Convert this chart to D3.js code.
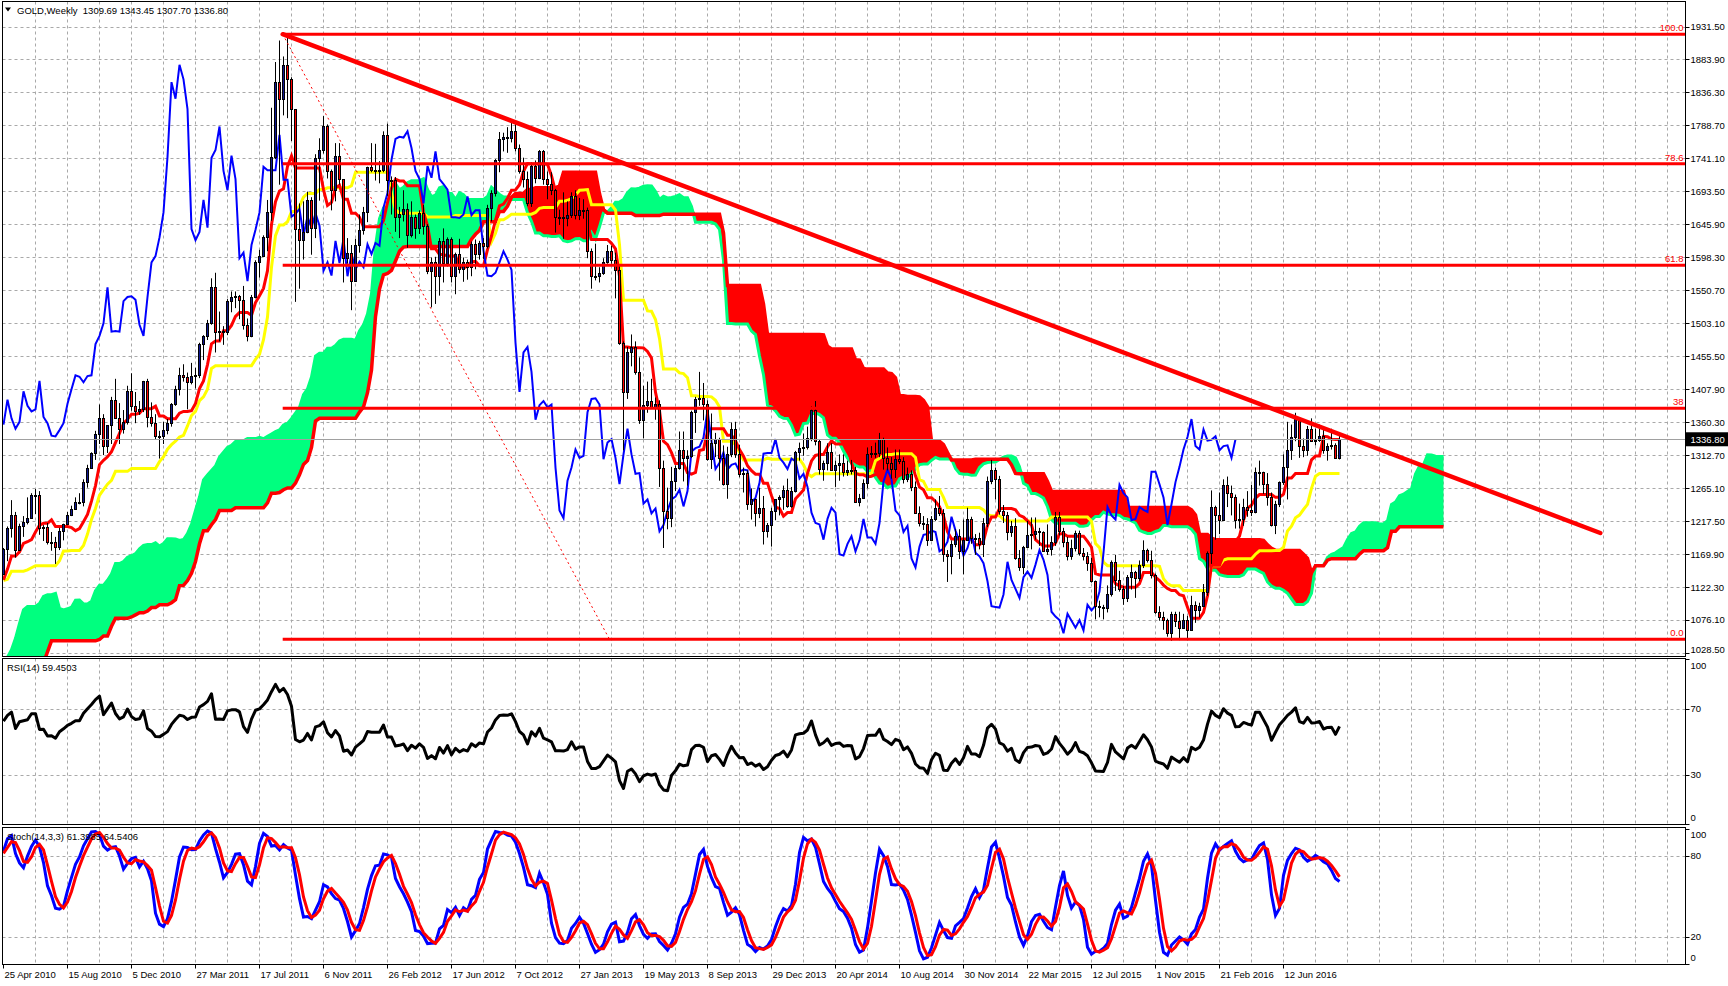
<!DOCTYPE html>
<html><head><meta charset="utf-8">
<script src="https://cdn.jsdelivr.net/npm/d3@7"></script>
<style>
body{margin:0;background:#fff;overflow:hidden}
text{font-family:"Liberation Sans",Arial,sans-serif;font-size:9.5px;fill:#000}
</style>
</head><body>
<svg id="c" width="1728" height="986"></svg>
<script>
// ---------- DATA ----------
// pre-history weekly bars (Oct 2008 - Apr 2010): [high, low, close] — only feeds the indicator look-back
const hist = [
[870,771,785],[806,681,737],[772,700,718],[772,707,735],[764,705,748],[800,722,797],[830,793,817],[815,739,752],
[828,752,824],[885,817,838],[877,835,872],[890,860,882],[880,838,853],[850,803,840],[900,834,897],[929,876,919],
[920,888,914],[948,906,944],[1006,940,1002],[1003,936,942],[945,910,939],[947,890,930],[961,884,952],[960,916,924],
[932,895,899],[889,866,883],[897,866,868],[915,870,913],[915,883,884],[919,880,915],[936,910,928],[960,923,956],
[982,940,979],[990,955,960],[963,932,936],[948,924,935],[945,915,940],[947,924,932],[935,908,913],[940,913,937],
[959,934,953],[960,923,955],[970,950,956],[955,935,949],[956,931,952],[958,937,955],[1000,946,996],[1010,986,1007],
[1023,998,1009],[1024,987,989],[1008,987,1003],[1050,1003,1049],[1070,1038,1051],[1070,1040,1057],[1065,1023,1045],
[1098,1040,1096],[1119,1089,1119],[1152,1115,1146],[1195,1136,1176],[1226,1160,1166],[1170,1115,1119],[1137,1100,1110],
[1113,1075,1104],[1106,1090,1097],[1140,1096,1138],[1162,1124,1131],[1141,1087,1092],[1107,1076,1082],[1124,1044,1050],
[1093,1058,1090],[1125,1088,1120],[1119,1086,1117],[1140,1113,1133],[1137,1095,1103],[1137,1100,1125],[1130,1088,1105],
[1127,1100,1125],[1167,1124,1163],[1170,1134,1136],[1154,1125,1142]
];
// visible weekly candles [open, high, low, close]
const bars2010 = [
[1142,1180,1141,1179],[1179,1211,1161,1209],[1209,1249,1195,1228],[1228,1232,1166,1177],[1177,1215,1176,1212],
[1212,1226,1196,1218],[1218,1253,1214,1223],[1223,1259,1222,1256],[1256,1265,1229,1256],[1256,1262,1199,1209],
[1209,1213,1190,1210],[1210,1216,1185,1188],[1188,1203,1176,1189],[1189,1196,1157,1181],[1181,1209,1177,1204],
[1204,1215,1191,1215],[1215,1232,1213,1228],[1228,1241,1226,1236],[1236,1253,1236,1246],[1246,1259,1243,1246],
[1246,1279,1240,1275],[1275,1300,1267,1296],[1296,1318,1295,1317],[1317,1349,1307,1345],[1345,1387,1330,1368],
[1368,1373,1314,1327],[1327,1347,1317,1358],[1358,1398,1330,1394],[1394,1424,1370,1367],[1367,1389,1330,1352],
[1352,1379,1345,1362],[1362,1414,1358,1406],[1406,1432,1378,1385],[1385,1405,1360,1377],[1377,1392,1372,1380],
[1380,1421,1376,1421]
];
const bars2011 = [
[1421,1424,1354,1369],[1369,1390,1355,1360],[1360,1373,1337,1342],[1342,1349,1309,1341],[1341,1362,1330,1350],
[1350,1366,1344,1360],[1360,1389,1355,1388],[1388,1414,1385,1409],[1409,1440,1400,1429],[1429,1445,1420,1427],
[1427,1433,1380,1419],[1419,1447,1416,1428],[1428,1440,1410,1429],[1429,1476,1425,1474],[1474,1487,1451,1486],
[1486,1509,1480,1504],[1504,1569,1502,1556],[1556,1577,1462,1492],[1492,1521,1478,1493],[1493,1500,1473,1492],
[1492,1539,1487,1536],[1536,1550,1520,1542],[1542,1550,1526,1543],[1543,1545,1510,1538],[1538,1558,1495,1502],
[1502,1511,1478,1486],[1486,1545,1484,1542],[1542,1595,1540,1592],[1592,1610,1570,1601],[1601,1631,1600,1628],
[1628,1682,1608,1664],[1664,1815,1652,1744],[1744,1881,1741,1852],[1852,1912,1704,1828],[1828,1889,1804,1877],
[1877,1921,1800,1856],[1856,1859,1767,1813],[1813,1813,1535,1640],[1640,1677,1554,1624],[1624,1680,1596,1636],
[1636,1694,1634,1682],[1682,1686,1603,1642],[1642,1748,1627,1743],[1743,1771,1681,1754],[1754,1803,1749,1788],
[1788,1791,1713,1724],[1724,1726,1667,1696],[1696,1764,1680,1746],[1746,1764,1704,1712],[1712,1712,1563,1598],
[1598,1627,1590,1606],[1606,1617,1523,1565]
];
const bars2012 = [
[1565,1626,1565,1617],[1617,1661,1606,1639],[1639,1672,1632,1664],[1664,1730,1650,1730],[1730,1764,1722,1725],
[1725,1763,1710,1725],[1725,1738,1706,1725],[1725,1781,1722,1776],[1776,1792,1688,1711],[1711,1716,1661,1711],
[1711,1715,1636,1658],[1658,1672,1627,1662],[1662,1696,1651,1669],[1669,1677,1613,1631],[1631,1680,1628,1658],
[1658,1661,1626,1642],[1642,1667,1633,1663],[1663,1675,1632,1645],[1645,1647,1575,1580],[1580,1599,1527,1592],
[1592,1600,1532,1573],[1573,1627,1544,1623],[1623,1641,1563,1591],[1591,1628,1586,1626],[1626,1628,1563,1572],
[1572,1606,1546,1604],[1604,1626,1576,1582],[1582,1599,1564,1593],[1593,1596,1567,1585],[1585,1622,1572,1618],
[1618,1625,1582,1604],[1604,1623,1596,1620],[1620,1627,1597,1616],[1616,1675,1612,1671],[1671,1696,1651,1692],
[1692,1741,1687,1740],[1740,1780,1722,1770],[1770,1779,1752,1773],[1773,1787,1750,1772],[1772,1796,1765,1781],
[1781,1795,1752,1757],[1757,1762,1720,1724],[1724,1743,1700,1712],[1712,1723,1673,1677],[1677,1736,1672,1731],
[1731,1739,1706,1714],[1714,1754,1712,1752],[1752,1754,1704,1712],[1712,1723,1683,1705],[1705,1722,1689,1697],
[1697,1698,1635,1657],[1657,1668,1646,1657],[1657,1693,1626,1656]
];
const bars2013 = [
[1656,1680,1644,1661],[1661,1693,1656,1687],[1687,1696,1654,1660],[1660,1685,1653,1667],[1667,1683,1655,1667],
[1667,1671,1598,1609],[1609,1612,1554,1573],[1573,1619,1566,1572],[1572,1585,1563,1577],[1577,1598,1574,1592],
[1592,1617,1590,1608],[1608,1616,1590,1596],[1596,1606,1540,1581],[1581,1587,1473,1476],[1476,1478,1321,1405],
[1405,1470,1395,1462],[1462,1488,1442,1470],[1470,1478,1430,1434],[1434,1455,1359,1365],[1365,1414,1338,1386],
[1386,1420,1375,1392],[1392,1424,1383,1383],[1383,1397,1365,1387],[1387,1393,1268,1296],[1296,1306,1180,1234],
[1234,1267,1207,1223],[1223,1297,1210,1277],[1277,1299,1262,1296],[1296,1348,1293,1322],[1322,1348,1276,1310],
[1310,1321,1270,1313],[1313,1378,1310,1376],[1376,1398,1346,1395],[1395,1434,1385,1396],[1396,1418,1364,1387],
[1387,1393,1306,1308],[1308,1374,1294,1332],[1332,1346,1311,1337],[1337,1339,1277,1310],[1310,1328,1270,1272],
[1272,1326,1251,1315],[1315,1361,1311,1352],[1352,1362,1310,1315],[1315,1329,1282,1287],[1287,1296,1260,1288],
[1288,1292,1235,1244],[1244,1266,1221,1250],[1250,1251,1211,1230],[1230,1267,1223,1237],[1237,1255,1185,1204],
[1204,1216,1195,1213],[1213,1238,1182,1234]
];
const bars2014 = [
[1234,1250,1220,1250],[1250,1256,1227,1254],[1254,1270,1235,1264],[1264,1280,1238,1240],[1240,1268,1238,1262],
[1262,1320,1260,1319],[1319,1332,1306,1324],[1324,1345,1313,1326],[1326,1355,1322,1339],[1339,1384,1334,1379],
[1379,1392,1328,1334],[1334,1337,1286,1294],[1294,1306,1277,1303],[1303,1331,1292,1318],[1318,1331,1292,1293],
[1293,1306,1268,1300],[1300,1315,1277,1302],[1302,1315,1283,1290],[1290,1306,1284,1293],[1293,1307,1286,1292],
[1292,1297,1245,1246],[1246,1258,1240,1252],[1252,1279,1252,1274],[1274,1325,1266,1316],[1316,1327,1310,1317],
[1317,1332,1310,1317],[1317,1346,1311,1337],[1337,1339,1293,1310],[1310,1325,1292,1303],[1303,1311,1280,1294],
[1294,1322,1281,1309],[1309,1322,1301,1305],[1305,1311,1273,1280],[1280,1296,1275,1287],[1287,1292,1262,1268],
[1268,1276,1229,1231],[1231,1240,1211,1216],[1216,1226,1206,1214],[1214,1223,1183,1192],[1192,1226,1190,1222],
[1222,1250,1219,1238],[1238,1255,1226,1231],[1231,1236,1160,1171],[1171,1177,1131,1169],[1169,1191,1142,1186],
[1186,1207,1181,1197],[1197,1207,1164,1175],[1175,1221,1142,1191],[1191,1238,1190,1222],[1222,1225,1186,1195],
[1195,1200,1170,1195],[1195,1202,1178,1186]
];
const bars2015 = [
[1186,1223,1167,1216],[1216,1283,1210,1276],[1276,1307,1272,1293],[1293,1296,1250,1279],[1279,1284,1228,1234],
[1234,1242,1216,1227],[1227,1232,1191,1203],[1203,1219,1196,1212],[1212,1223,1163,1165],[1165,1177,1147,1152],
[1152,1183,1142,1182],[1182,1219,1181,1199],[1199,1224,1178,1200],[1200,1224,1192,1205],[1205,1209,1183,1203],
[1203,1204,1175,1175],[1175,1214,1170,1179],[1179,1197,1169,1189],[1189,1232,1183,1225],[1225,1232,1198,1205],
[1205,1209,1181,1189],[1189,1196,1162,1169],[1169,1192,1163,1180],[1180,1205,1175,1201],[1201,1205,1169,1173],
[1173,1180,1162,1168],[1168,1174,1147,1158],[1158,1166,1130,1132],[1132,1133,1077,1096],[1096,1104,1080,1095],
[1095,1098,1077,1094],[1094,1126,1087,1113],[1113,1162,1110,1160],[1160,1170,1118,1134],[1134,1147,1117,1121],
[1121,1125,1098,1108],[1108,1141,1102,1138],[1138,1156,1120,1146],[1146,1147,1108,1137],[1137,1162,1132,1156],
[1156,1191,1151,1177],[1177,1179,1159,1163],[1163,1176,1136,1141],[1141,1143,1085,1088],[1088,1096,1075,1081],
[1081,1088,1062,1076],[1076,1078,1052,1057],[1057,1088,1046,1085],[1085,1088,1066,1075],[1075,1088,1047,1065],
[1065,1085,1064,1076],[1076,1082,1047,1061]
];
const bars2016 = [
[1061,1111,1061,1098],[1098,1103,1072,1090],[1090,1101,1080,1097],[1097,1128,1096,1117],[1117,1175,1111,1173],
[1173,1263,1157,1239],[1239,1241,1192,1227],[1227,1260,1200,1221],[1221,1279,1219,1271],[1271,1283,1239,1259],
[1259,1270,1227,1253],[1253,1257,1208,1220],[1220,1244,1208,1222],[1222,1251,1212,1239],[1239,1262,1225,1235],
[1235,1271,1226,1232],[1232,1296,1230,1290],[1290,1306,1270,1290],[1290,1290,1258,1272],[1272,1288,1241,1253],
[1253,1260,1211,1213],[1213,1248,1200,1243],[1243,1276,1239,1275],[1275,1315,1271,1297],[1297,1362,1250,1322],
[1322,1358,1307,1340],[1340,1375,1334,1366],[1366,1368,1310,1327],[1327,1338,1311,1322],[1322,1356,1313,1351],
[1351,1367,1333,1335],[1335,1352,1328,1336],[1336,1358,1333,1341],[1341,1351,1316,1321],[1321,1331,1306,1327],
[1327,1352,1322,1328],[1328,1331,1310,1310],[1309.69,1343.45,1307.70,1336.80]
];
const xLabels = ["25 Apr 2010","15 Aug 2010","5 Dec 2010","27 Mar 2011","17 Jul 2011","6 Nov 2011","26 Feb 2012",
"17 Jun 2012","7 Oct 2012","27 Jan 2013","19 May 2013","8 Sep 2013","29 Dec 2013","20 Apr 2014","10 Aug 2014",
"30 Nov 2014","22 Mar 2015","12 Jul 2015","1 Nov 2015","21 Feb 2016","12 Jun 2016"];
const priceTicks = [1931.50,1883.90,1836.30,1788.70,1741.10,1693.50,1645.90,1598.30,1550.70,1503.10,1455.50,
1407.90,1360.30,1312.70,1265.10,1217.50,1169.90,1122.30,1076.10,1028.50];
const rsiTicks = [100,70,30,0];
const stochTicks = [100,80,20,0];
const fibRatios = [1,0.786,0.618,0.382,0];
const fibTexts = ["100.0","78.6","61.8","38","0.0"];
const fibAnchors = [[69.8,1921.1],[151.5,1048.3]];     // [bar index, price]
const trendAnchors = [[69.8,1921.1],[399.2,1201.6]];
const lastPrice = 1336.80;
const titleMain = "GOLD,Weekly  1309.69 1343.45 1307.70 1336.80";
const titleRsi = "RSI(14) 59.4503";
const titleStoch = "Stoch(14,3,3) 61.3985 64.5406";
const TENKAN = 9, KIJUN = 26, SENKOU = 52, RSI_P = 14, ST_K = 14, ST_SLOW = 3, ST_D = 3;
const LABEL_STEP = 16, GRID_STEP = 8;

// ---------- DERIVED (indicators from the price data) ----------
const bars = [].concat(bars2010,bars2011,bars2012,bars2013,bars2014,bars2015,bars2016);
const N = bars.length, off = hist.length;
const H = hist.map(d=>d[0]).concat(bars.map(d=>d[1]));
const L = hist.map(d=>d[1]).concat(bars.map(d=>d[2]));
const C = hist.map(d=>d[2]).concat(bars.map(d=>d[3]));
function hlMid(a,b){let hi=-Infinity,lo=Infinity;for(let k=Math.max(0,a);k<=b;k++){if(H[k]>hi)hi=H[k];if(L[k]<lo)lo=L[k];}return (hi+lo)/2;}
const tenkan = bars.map((d,i)=>hlMid(off+i-TENKAN+1,off+i));
const kijun = bars.map((d,i)=>hlMid(off+i-KIJUN+1,off+i));
const cloud = [];
for(let p=0;p<N+KIJUN;p++){const j=off+p-KIJUN;
  cloud.push({i:p,a:(hlMid(j-TENKAN+1,j)+hlMid(j-KIJUN+1,j))/2,b:hlMid(j-SENKOU+1,j)});}
const chikou = bars.slice(KIJUN).map((d,k)=>({i:k,v:d[3]}));
// RSI (Wilder)
const rsiAll=[];let ap=0,an=0;
for(let k=1;k<C.length;k++){const df=C[k]-C[k-1];const up=Math.max(df,0),dn=Math.max(-df,0);
  if(k<=RSI_P){ap+=up;an+=dn;if(k===RSI_P){ap/=RSI_P;an/=RSI_P;rsiAll[k]=100-100/(1+ap/an);}}
  else{ap=(ap*(RSI_P-1)+up)/RSI_P;an=(an*(RSI_P-1)+dn)/RSI_P;rsiAll[k]=an===0?100:100-100/(1+ap/an);}}
// Stochastic
const ll=[],hh=[],kA=[],dA=[];
for(let k=0;k<C.length;k++){let lo=Infinity,hi=-Infinity;for(let m=Math.max(0,k-ST_K+1);m<=k;m++){lo=Math.min(lo,L[m]);hi=Math.max(hi,H[m]);}ll[k]=lo;hh[k]=hi;}
for(let k=ST_K+ST_SLOW;k<C.length;k++){let s1=0,s2=0;for(let m=k-ST_SLOW+1;m<=k;m++){s1+=C[m]-ll[m];s2+=hh[m]-ll[m];}kA[k]=s2===0?100:100*s1/s2;}
for(let k=ST_K+ST_SLOW+ST_D;k<C.length;k++){dA[k]=(kA[k]+kA[k-1]+kA[k-2])/3;}
const rsiV = bars.map((d,i)=>({i,v:rsiAll[off+i]}));
const kV = bars.map((d,i)=>({i,v:kA[off+i]}));
const dV = bars.map((d,i)=>({i,v:dA[off+i]}));

// ---------- LAYOUT ----------
const svg = d3.select("#c");
const left=2.5, right=1685.5;
const main={top:1.5,bottom:656.5}, rsiP={top:658.5,bottom:824.5}, stP={top:827.5,bottom:964.5};
const x = d3.scaleLinear().domain([0,1]).range([3.5,7.5]);
const y = d3.scaleLinear().domain([1028.5,1931.5]).range([653,27]);
const yR = d3.scaleLinear().domain([0,100]).range([824.5,659.5]);
const yS = d3.scaleLinear().domain([0,100]).range([964,829]);
const crisp = v=>Math.round(v-0.5)+0.5;

const defs = svg.append("defs");
[["cm",main],["cr",rsiP],["cs",stP]].forEach(([id,p])=>{
  defs.append("clipPath").attr("id",id).append("rect").attr("x",left).attr("y",p.top).attr("width",right-left).attr("height",p.bottom-p.top);});

// grid
const grid = svg.append("g").attr("stroke","#a9a9a9").attr("stroke-dasharray","3,3").attr("stroke-width",1);
const nGrid = Math.floor(420/GRID_STEP);
[main,rsiP,stP].forEach(p=>{
  for(let k=1;k<=nGrid;k++){const gx=x(k*GRID_STEP);if(gx>=right-1)break;
    grid.append("line").attr("x1",gx).attr("x2",gx).attr("y1",p.top).attr("y2",p.bottom);}
});
priceTicks.forEach(v=>grid.append("line").attr("x1",left).attr("x2",right).attr("y1",crisp(y(v))).attr("y2",crisp(y(v))));
[70,30].forEach(v=>grid.append("line").attr("x1",left).attr("x2",right).attr("y1",crisp(yR(v))).attr("y2",crisp(yR(v))));
[80,20].forEach(v=>grid.append("line").attr("x1",left).attr("x2",right).attr("y1",crisp(yS(v))).attr("y2",crisp(yS(v))));

// main pane content
const gm = svg.append("g").attr("clip-path","url(#cm)");
// cloud fills
gm.append("path").datum(cloud).attr("fill","#00ff7f")
  .attr("d",d3.area().x(d=>x(d.i)).y0(d=>y(d.b)).y1(d=>y(Math.max(d.a,d.b))));
gm.append("path").datum(cloud).attr("fill","#ff0000")
  .attr("d",d3.area().x(d=>x(d.i)).y0(d=>y(d.a)).y1(d=>y(Math.max(d.a,d.b))));
const lineA = d3.line().x(d=>x(d.i)).y(d=>y(d.a));
const lineB = d3.line().x(d=>x(d.i)).y(d=>y(d.b));
gm.append("path").datum(cloud).attr("fill","none").attr("stroke","#00ff7f").attr("stroke-width",3).attr("d",lineA);
gm.append("path").datum(cloud).attr("fill","none").attr("stroke","#ff0000").attr("stroke-width",3.5).attr("d",lineB);
const lv = d3.line().x(d=>x(d.i)).y(d=>y(d.v));
gm.append("path").datum(kijun.map((v,i)=>({i,v}))).attr("fill","none").attr("stroke","#ffff00").attr("stroke-width",3).attr("d",lv);
gm.append("path").datum(tenkan.map((v,i)=>({i,v}))).attr("fill","none").attr("stroke","#ff0000").attr("stroke-width",3).attr("d",lv);
gm.append("path").datum(chikou).attr("fill","none").attr("stroke","#0000ff").attr("stroke-width",2).attr("d",lv);

// candles
const cg = gm.append("g");
bars.forEach((d,i)=>{
  const cx = x(i);
  cg.append("line").attr("x1",cx).attr("x2",cx).attr("y1",y(d[1])).attr("y2",y(d[2])).attr("stroke","#000").attr("stroke-width",1);
  const t = Math.round(y(Math.max(d[0],d[3]))), b = Math.round(y(Math.min(d[0],d[3])));
  cg.append("rect").attr("x",cx-1).attr("y",t+0.5).attr("width",2).attr("height",Math.max(b-t,1))
    .attr("fill",d[3]>=d[0]?"#101890":"#ff0000").attr("stroke","#000").attr("stroke-width",1);
});

// current price line
gm.append("line").attr("x1",left).attr("x2",right).attr("y1",crisp(y(lastPrice))).attr("y2",crisp(y(lastPrice)))
  .attr("stroke","#a0a0a0").attr("stroke-width",1);

// fibonacci
const fHi=fibAnchors[0][1], fLo=fibAnchors[1][1];
gm.append("line").attr("x1",x(fibAnchors[0][0])).attr("y1",y(fHi)).attr("x2",x(fibAnchors[1][0])).attr("y2",y(fLo))
  .attr("stroke","#ff0000").attr("stroke-width",1).attr("stroke-dasharray","2,3");
fibRatios.forEach((r,k)=>{
  const py = y(fLo+(fHi-fLo)*r);
  gm.append("line").attr("x1",x(fibAnchors[0][0])).attr("x2",right).attr("y1",py).attr("y2",py)
    .attr("stroke","#ff0000").attr("stroke-width",3);
  gm.append("text").attr("x",right-2).attr("y",py-3).attr("text-anchor","end").style("fill","#ff0000").text(fibTexts[k]);
});
// trend line
gm.append("line").attr("x1",x(trendAnchors[0][0])).attr("y1",y(trendAnchors[0][1]))
  .attr("x2",x(trendAnchors[1][0])).attr("y2",y(trendAnchors[1][1]))
  .attr("stroke","#ff0000").attr("stroke-width",4.5).attr("stroke-linecap","round");

// RSI pane
svg.append("g").attr("clip-path","url(#cr)").append("path").datum(rsiV).attr("fill","none").attr("stroke","#000")
  .attr("stroke-width",3).attr("stroke-linejoin","round").attr("d",d3.line().x(d=>x(d.i)).y(d=>yR(d.v)));
// Stoch pane
const gs = svg.append("g").attr("clip-path","url(#cs)");
gs.append("path").datum(kV).attr("fill","none").attr("stroke","#0000ff").attr("stroke-width",3)
  .attr("d",d3.line().x(d=>x(d.i)).y(d=>yS(d.v)));
gs.append("path").datum(dV).attr("fill","none").attr("stroke","#ff0000").attr("stroke-width",3)
  .attr("d",d3.line().x(d=>x(d.i)).y(d=>yS(d.v)));

// pane frames
[main,rsiP,stP].forEach(p=>svg.append("rect").attr("x",left).attr("y",p.top).attr("width",right-left)
  .attr("height",p.bottom-p.top).attr("fill","none").attr("stroke","#000").attr("stroke-width",1));

// titles
svg.append("path").attr("d","M5,7.5 L11,7.5 L8,11.5 Z").attr("fill","#000");
svg.append("text").attr("x",17).attr("y",13.5).attr("xml:space","preserve").text(titleMain);
svg.append("text").attr("x",7).attr("y",670.5).text(titleRsi);
svg.append("text").attr("x",7).attr("y",839.5).text(titleStoch);

// right axes
const ax = svg.append("g");
function rightLabels(ticks,sc,p){
  ticks.forEach(v=>{
    const ty = sc(v);
    ax.append("line").attr("x1",right).attr("x2",right+4).attr("y1",crisp(ty)).attr("y2",crisp(ty)).attr("stroke","#000");
    const ly = Math.min(Math.max(ty,p.top+7),p.bottom-6.5);
    ax.append("text").attr("x",right+5).attr("y",ly).attr("dy","0.35em").text(typeof v==="number"&&p===main?v.toFixed(2):v);
  });
}
rightLabels(priceTicks,y,main);
rightLabels(rsiTicks,yR,rsiP);
rightLabels(stochTicks,yS,stP);
// current price tag
const py0 = y(lastPrice);
ax.append("rect").attr("x",right+0.5).attr("y",py0-7).attr("width",42).attr("height",14).attr("fill","#000");
ax.append("text").attr("x",right+5).attr("y",py0).attr("dy","0.35em").style("fill","#fff").text(lastPrice.toFixed(2));

// time axis
xLabels.forEach((s,k)=>{
  const tx = x(k*LABEL_STEP);
  ax.append("line").attr("x1",tx).attr("x2",tx).attr("y1",stP.bottom).attr("y2",stP.bottom+4).attr("stroke","#000");
  ax.append("text").attr("x",tx+1).attr("y",978).text(s);
});
</script>
</body></html>
